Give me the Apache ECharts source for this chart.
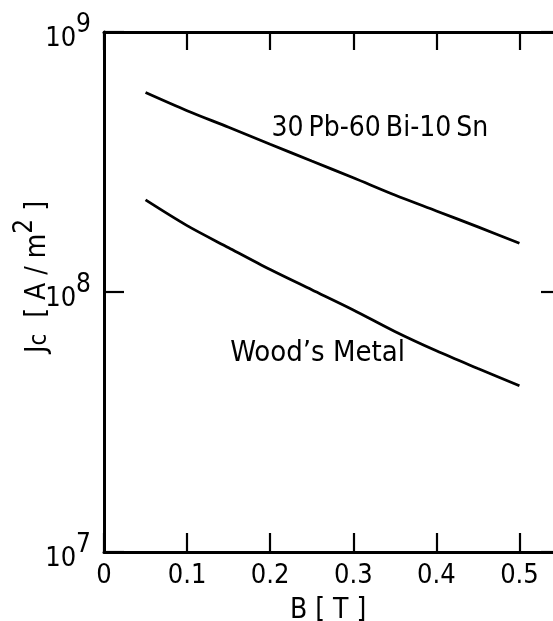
<!DOCTYPE html>
<html>
<head>
<meta charset="utf-8">
<script src="https://cdn.jsdelivr.net/npm/echarts@6/dist/echarts.min.js"></script>
<style>
  html, body { margin: 0; padding: 0; background: #fff; }
  #chart { width: 553px; height: 621px; }
</style>
</head>
<body>
<div id="chart"></div>
<script>
// ---- data ----
var B = [0.05, 0.10, 0.15, 0.20, 0.25, 0.30, 0.35, 0.40, 0.45, 0.50];
var jcPbBiSn = [5.85e8, 4.98e8, 4.30e8, 3.70e8, 3.19e8, 2.75e8, 2.36e8, 2.05e8, 1.78e8, 1.54e8];
var jcWoods  = [2.26e8, 1.80e8, 1.48e8, 1.22e8, 1.02e8, 8.53e7, 7.05e7, 5.94e7, 5.08e7, 4.36e7];
var seriesNames = ['30\u2009Pb-60\u2009Bi-10\u2009Sn', 'Wood\u2019s Metal'];
var labelPosPbBiSn = [0.332, 4.25e8];
var labelPosWoods = [0.257, 5.82e7];
var xTickLabels = ['0', '0.1', '0.2', '0.3', '0.4', '0.5'];
var yTickExponents = {1e7: '7', 1e8: '8', 1e9: '9'};
var xTitle = 'B [ T ]';

var FONT = '"Liberation Sans Narrow", "DejaVu Sans Condensed", "Liberation Sans", sans-serif';
var chart = echarts.init(document.getElementById('chart'), null, {renderer: 'canvas'});

function pairs(xs, ys) { return xs.map(function (x, i) { return [x, ys[i]]; }); }

var lineStyle = {color: '#000', width: 2.8};
var axisLine = {show: true, onZero: false, lineStyle: {color: '#000', width: 3}};
var tick = function (len) { return {show: true, inside: true, length: len, lineStyle: {color: '#000', width: 2.2}}; };

var option = {
  animation: false,
  backgroundColor: '#fff',
  grid: {left: 104, top: 32, width: 457, height: 520, containLabel: false, outerBoundsMode: 'none'},
  xAxis: [{
    type: 'value', position: 'bottom', min: 0, max: 0.55, interval: 0.1,
    axisLine: axisLine, axisTick: tick(19),
    splitLine: {show: false},
    axisLabel: {
      show: true, margin: 10, showMaxLabel: false, color: '#000',
      fontFamily: FONT, fontSize: 27,
      formatter: function (v) {
        var i = Math.round(v * 10);
        return (Math.abs(v * 10 - i) < 1e-6 && xTickLabels[i] !== undefined) ? xTickLabels[i] : '';
      }
    }
  }, {
    type: 'value', position: 'top', min: 0, max: 0.55, interval: 0.1,
    axisLine: axisLine, axisTick: tick(18),
    splitLine: {show: false},
    axisLabel: {show: false}
  }],
  yAxis: [{
    type: 'log', position: 'left', min: 1e7, max: 1e9, logBase: 10,
    axisLine: axisLine, axisTick: tick(20),
    minorTick: {show: false},
    splitLine: {show: false},
    axisLabel: {
      show: true, margin: 13, color: '#000',
      formatter: function (v) {
        var e = yTickExponents[v] || String(Math.round(Math.log10(v)));
        return '{b|10}{s|' + e + '}';
      },
      rich: {
        b: {fontFamily: FONT, fontSize: 27, lineHeight: 40, verticalAlign: 'bottom', color: '#000'},
        s: {fontFamily: FONT, fontSize: 26, lineHeight: 20, verticalAlign: 'top', color: '#000'}
      }
    }
  }, {
    type: 'log', position: 'right', min: 1e7, max: 1e9, logBase: 10,
    axisLine: axisLine, axisTick: tick(20),
    minorTick: {show: false},
    splitLine: {show: false},
    axisLabel: {show: false}
  }],
  series: [{
    name: seriesNames[0], type: 'line', xAxisIndex: 0, yAxisIndex: 0,
    data: pairs(B, jcPbBiSn), showSymbol: false, smooth: 0.3,
    lineStyle: lineStyle,
    markPoint: {
      symbol: 'circle', symbolSize: 0, silent: true,
      label: {show: true, position: 'inside', formatter: seriesNames[0], color: '#000',
               fontFamily: FONT, fontSize: 28},
      data: [{coord: labelPosPbBiSn}]
    }
  }, {
    name: seriesNames[1], type: 'line', xAxisIndex: 0, yAxisIndex: 0,
    data: pairs(B, jcWoods), showSymbol: false, smooth: 0.3,
    lineStyle: lineStyle,
    markPoint: {
      symbol: 'circle', symbolSize: 0, silent: true,
      label: {show: true, position: 'inside', formatter: seriesNames[1], color: '#000',
               fontFamily: FONT, fontSize: 29},
      data: [{coord: labelPosWoods}]
    }
  }],
  graphic: [{
    type: 'text', left: 290, top: 597,
    style: {text: xTitle, fontFamily: FONT, fontSize: 28, fill: '#000'}
  }, {
    type: 'text', x: 32, y: 277, rotation: Math.PI / 2,
    style: {
      text: '{a|J}{sub|c}{a|  [ A / m}{sup|2}{a| ]}',
      align: 'center', verticalAlign: 'middle',
      rich: {
        a: {fontFamily: FONT, fontSize: 28, lineHeight: 40, verticalAlign: 'bottom', fill: '#000'},
        sub: {fontFamily: FONT, fontSize: 24, lineHeight: 22, verticalAlign: 'bottom', fill: '#000'},
        sup: {fontFamily: FONT, fontSize: 26, lineHeight: 20, verticalAlign: 'top', fill: '#000'}
      }
    }
  }]
};
chart.setOption(option);
</script>
</body>
</html>
